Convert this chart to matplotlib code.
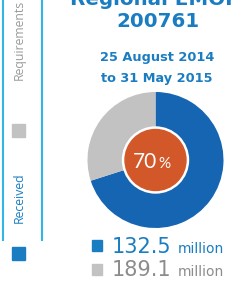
import matplotlib
matplotlib.use("Agg")
import matplotlib.pyplot as plt
from matplotlib.patches import Rectangle, Circle
from matplotlib.lines import Line2D

# ---- data ----
title_lines = ["Regional EMOP", "200761"]
period_lines = ["25 August 2014", "to 31 May 2015"]
received = 132.5
requirements = 189.1
unit = "million"
side_labels = ["Requirements", "Received"]

pct = round(received / requirements * 100)
wedges = [received, requirements - received]

# ---- colours ----
BLUE_DARK = "#1565b3"
BLUE = "#1a7dc2"
GRAY = "#c2c2c2"
ORANGE = "#d2582a"
CYAN = "#33b6e6"
GRAY_TXT = "#9a9a9a"

W, H = 250, 284
fig = plt.figure(figsize=(W / 100, H / 100), dpi=100)
fig.patch.set_facecolor("white")


def fx(x):
    return x / W


def fy(y):
    return 1 - y / H


# vertical lines on the left
for x in (2.7, 42):
    fig.add_artist(Line2D([fx(x), fx(x)], [fy(0), fy(240)], color=CYAN, lw=1.5,
                          transform=fig.transFigure))

# side labels
fig.text(fx(19), fy(40), side_labels[0], rotation=90, ha="center", va="center",
         color=GRAY_TXT, fontsize=8.8, family=["Open Sans", "DejaVu Sans"])
fig.text(fx(19), fy(197.5), side_labels[1], rotation=90, ha="center", va="center",
         color=BLUE, fontsize=8.8, family=["Open Sans", "DejaVu Sans"])
fig.add_artist(Rectangle((fx(12), fy(137)), fx(13), 13 / H, color=GRAY,
                         transform=fig.transFigure))
fig.add_artist(Rectangle((fx(12), fy(260)), fx(13), 13 / H, color=BLUE,
                         transform=fig.transFigure))

# title
fig.text(fx(155), fy(5), title_lines[0], ha="center", va="baseline", color=BLUE,
         fontsize=14.3, fontweight="bold")
fig.text(fx(158), fy(27), title_lines[1], ha="center", va="baseline", color=BLUE,
         fontsize=14.3, fontweight="bold")
fig.text(fx(157), fy(61), period_lines[0], ha="center", va="baseline", color=BLUE,
         fontsize=9.3, fontweight="bold")
fig.text(fx(157), fy(82), period_lines[1], ha="center", va="baseline", color=BLUE,
         fontsize=9.3, fontweight="bold")

# pie
cx, cy, r = 155.5, 160, 68
ax = fig.add_axes([fx(cx - r), fy(cy + r), 2 * r / W, 2 * r / H])
ax.pie(wedges, colors=[BLUE_DARK, GRAY], startangle=90, counterclock=False,
       radius=1, wedgeprops=dict(linewidth=0))
ax.add_patch(Circle((0, 0), 33 / r, color="white", zorder=3))
ax.add_patch(Circle((0, 0), 30.5 / r, color=ORANGE, zorder=4))
ax.text(0.03, -0.12, f"{pct}", ha="right", va="baseline", color="white",
        fontsize=15, family=["Lato", "DejaVu Sans"], zorder=6)
ax.text(0.04, -0.12, "%", ha="left", va="baseline", color="white",
        fontsize=11, family=["Lato", "DejaVu Sans"], zorder=6)
ax.set_xlim(-1, 1)
ax.set_ylim(-1, 1)
ax.set_aspect("equal")
ax.axis("off")

# legend values
fig.add_artist(Rectangle((fx(92), fy(251)), fx(10), 11 / H, color=BLUE,
                         transform=fig.transFigure))
fig.add_artist(Rectangle((fx(92), fy(275)), fx(10), 11 / H, color=GRAY,
                         transform=fig.transFigure))
fig.text(fx(112), fy(253), f"{received}", ha="left", va="baseline", color=BLUE,
         fontsize=15)
fig.text(fx(178), fy(253), unit, ha="left", va="baseline", color=BLUE, fontsize=10)
fig.text(fx(112), fy(275.5), f"{requirements}", ha="left", va="baseline",
         color="#8c8c8c", fontsize=15)
fig.text(fx(178), fy(275.5), unit, ha="left", va="baseline", color="#8c8c8c",
         fontsize=10)

fig.savefig("out.png", dpi=100, facecolor="white")
